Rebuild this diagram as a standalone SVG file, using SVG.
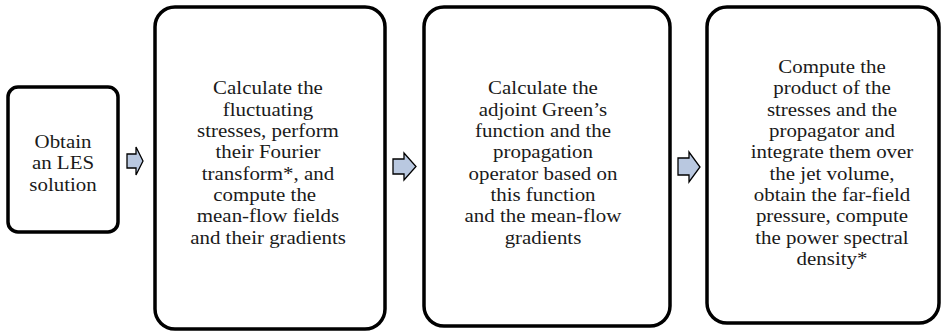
<svg xmlns="http://www.w3.org/2000/svg" width="941" height="333" viewBox="0 0 941 333">
<style>
.box{fill:#ffffff;stroke:#000000;stroke-width:3.5}
.arr{fill:#b9c8e0;stroke:#000000;stroke-width:1.3;stroke-linejoin:miter}
text{font-family:"Liberation Serif","Times New Roman",serif;font-size:19.2px;fill:#1a1a1a;text-anchor:middle}
</style>
<rect width="941" height="333" fill="#ffffff"/>
<g id="connectors">
<polygon class="arr" points="127,154 136,154 136,147 143,161 136,175 136,168 127,168"/>
<polygon class="arr" points="393,159 404,159 404,153 416,166.5 404,180 404,174 393,174"/>
<polygon class="arr" points="678,158 689,158 689,152 700,167 689,182 689,175 678,175"/>
</g>
<g id="node1">
<rect class="box" x="8" y="87" width="110" height="145" rx="10" ry="10"/>
<text transform="matrix(1.09 0 0 1 -5.67 0)" x="63" y="148"><tspan x="63">Obtain</tspan><tspan x="63" dy="21.3">an LES</tspan><tspan x="63" dy="21.3">solution</tspan></text>
</g>
<g id="node2">
<rect class="box" x="155" y="7" width="230" height="322" rx="20" ry="20"/>
<text transform="matrix(1.09 0 0 1 -24.12 0)" x="268" y="94.5"><tspan x="268">Calculate the</tspan><tspan x="268" dy="21.3">fluctuating</tspan><tspan x="268" dy="21.3">stresses, perform</tspan><tspan x="268" dy="21.3">their Fourier</tspan><tspan x="268" dy="21.3">transform*, and</tspan><tspan x="265" dy="21.3">compute the</tspan><tspan x="268" dy="21.3">mean-flow fields</tspan><tspan x="268" dy="21.3">and their gradients</tspan></text>
</g>
<g id="node3">
<rect class="box" x="424" y="7" width="246" height="319" rx="20" ry="20"/>
<text transform="matrix(1.09 0 0 1 -48.87 0)" x="543" y="94.5"><tspan x="543">Calculate the</tspan><tspan x="543" dy="21.3">adjoint Green’s</tspan><tspan x="543" dy="21.3">function and the</tspan><tspan x="543" dy="21.3">propagation</tspan><tspan x="543" dy="21.3">operator based on</tspan><tspan x="543" dy="21.3">this function</tspan><tspan x="543" dy="21.3">and the mean-flow</tspan><tspan x="543" dy="21.3">gradients</tspan></text>
</g>
<g id="node4">
<rect class="box" x="707" y="7" width="232" height="316" rx="20" ry="20"/>
<text transform="matrix(1.09 0 0 1 -74.88 0)" x="832" y="73.2"><tspan x="832">Compute the</tspan><tspan x="832" dy="21.3">product of the</tspan><tspan x="832" dy="21.3">stresses and the</tspan><tspan x="832" dy="21.3">propagator and</tspan><tspan x="832" dy="21.3">integrate them over</tspan><tspan x="832" dy="21.3">the jet volume,</tspan><tspan x="832" dy="21.3">obtain the far-field</tspan><tspan x="832" dy="21.3">pressure, compute</tspan><tspan x="832" dy="21.3">the power spectral</tspan><tspan x="832" dy="21.3">density*</tspan></text>
</g>
</svg>
